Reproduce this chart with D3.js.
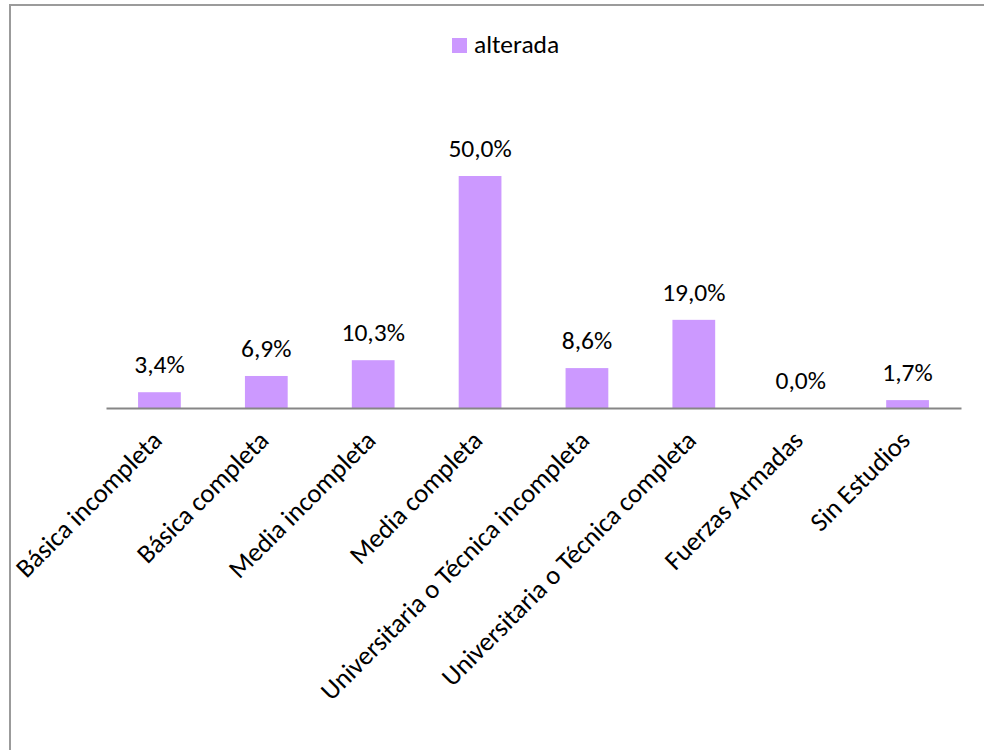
<!DOCTYPE html>
<html>
<head>
<meta charset="utf-8">
<script src="https://cdn.jsdelivr.net/npm/d3@7"></script>
<style>
  html, body { margin: 0; padding: 0; background: #fff; }
  svg { display: block; }
  text { font-family: Carlito, Calibri, Lato, sans-serif; fill: #000; }
</style>
</head>
<body>
<svg id="chart" width="984" height="750"></svg>
<script>
// Nivel educacional: porcentaje con condición "alterada"
const categories = [
  "Básica incompleta",
  "Básica completa",
  "Media incompleta",
  "Media completa",
  "Universitaria o Técnica incompleta",
  "Universitaria o Técnica completa",
  "Fuerzas Armadas",
  "Sin Estudios"
];
const alterada = [0.034, 0.069, 0.103, 0.500, 0.086, 0.190, 0.000, 0.017];
const seriesName = "alterada";

const fmt = v => d3.format(".1f")(v * 100).replace(".", ",") + "%";

const svg = d3.select("#chart");
const barColor = "#cc99ff";
const fontSize = 25.5;
const catFontSize = 26.5;

// chart frame (open on the right and bottom edges)
svg.append("rect")
  .attr("x", 10).attr("y", 5)
  .attr("width", 1100).attr("height", 900)
  .attr("fill", "none")
  .attr("stroke", "#9b9b9b")
  .attr("stroke-width", 2);

const x = d3.scaleBand()
  .domain(categories)
  .range([106, 961])
  .paddingInner(0.6)
  .paddingOuter(0.3);

const y = d3.scaleLinear()
  .domain([0, 0.5])
  .range([408, 176]);

const data = categories.map((c, i) => ({ cat: c, v: alterada[i] }));

// bars
svg.append("g").selectAll("rect")
  .data(data)
  .join("rect")
  .attr("x", d => x(d.cat))
  .attr("y", d => y(d.v))
  .attr("width", x.bandwidth())
  .attr("height", d => y(0) - y(d.v))
  .attr("fill", barColor);

// value labels
svg.append("g").selectAll("text")
  .data(data)
  .join("text")
  .attr("x", d => x(d.cat) + x.bandwidth() / 2)
  .attr("y", d => y(d.v) - 19)
  .attr("text-anchor", "middle")
  .style("font-size", fontSize + "px")
  .text(d => fmt(d.v));

// category axis
const xAxis = d3.axisBottom(x).tickSize(0).tickPadding(0);
const gx = svg.append("g")
  .attr("transform", `translate(0,${y(0)})`)
  .call(xAxis);
gx.select(".domain").attr("stroke", "#868686").attr("stroke-width", 2);
gx.selectAll(".tick text")
  .attr("text-anchor", "end")
  .attr("dy", null)
  .attr("y", 0)
  .attr("transform", "translate(4,34) rotate(-45)")
  .style("font-size", catFontSize + "px")
  .style("font-family", "Carlito, Calibri, Lato, sans-serif")
  .attr("fill", "#000");

// legend
const lg = svg.append("g");
lg.append("rect")
  .attr("x", 452).attr("y", 38)
  .attr("width", 15).attr("height", 15)
  .attr("fill", barColor);
lg.append("text")
  .attr("x", 474).attr("y", 53)
  .style("font-size", fontSize + "px")
  .text(seriesName);
</script>
</body>
</html>
